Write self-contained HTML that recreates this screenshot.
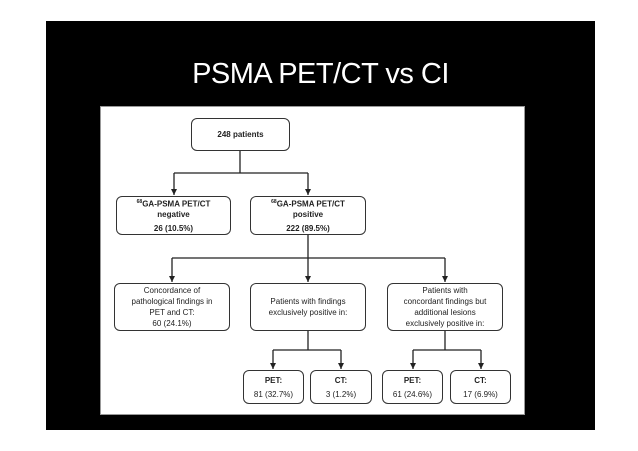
<!DOCTYPE html>
<html><head><style>
body{margin:0;width:638px;height:451px;background:#fff;overflow:hidden;position:relative;font-family:"Liberation Sans",Arial,sans-serif}
#slide{position:absolute;left:46px;top:21px;width:549px;height:409px;background:#000}
#title{position:absolute;left:46px;width:549px;top:58px;text-align:center;color:#fff;font-size:29px;letter-spacing:-0.5px}
#panel{position:absolute;left:100px;top:106px;width:423px;height:307px;background:#fff;border:1px solid #999}
.b{position:absolute;border:1.5px solid #333;border-radius:6px;box-sizing:border-box;display:flex;flex-direction:column;justify-content:center;align-items:center;text-align:center;font-size:8px;color:#222;line-height:11px}
.bd{font-weight:bold}
svg{position:absolute;left:0;top:0}
</style></head><body>
<div id="slide"></div>
<div id="title">PSMA PET/CT vs CI</div>
<div id="panel"></div>
<svg width="638" height="451">
<defs><marker id="a" markerWidth="6" markerHeight="6" refX="6" refY="3" orient="auto" markerUnits="userSpaceOnUse"><path d="M0,0 L6,3 L0,6 z" fill="#222"/></marker></defs>
<g stroke="#222" stroke-width="1.3" fill="none">
<path d="M240,151 V173 M174,173 H308"/>
<path d="M174,173 V195" marker-end="url(#a)"/><path d="M308,173 V195" marker-end="url(#a)"/>
<path d="M308,235 V258 M172,258 H445"/>
<path d="M172,258 V282" marker-end="url(#a)"/><path d="M308,258 V282" marker-end="url(#a)"/><path d="M445,258 V282" marker-end="url(#a)"/>
<path d="M308,331 V350 M273,350 H341"/>
<path d="M273,350 V369" marker-end="url(#a)"/><path d="M341,350 V369" marker-end="url(#a)"/>
<path d="M445,331 V350 M413,350 H481"/>
<path d="M413,350 V369" marker-end="url(#a)"/><path d="M481,350 V369" marker-end="url(#a)"/>
</g></svg>
<div class="b bd" style="left:191px;top:118px;width:99px;height:33px">248 patients</div>
<div class="b bd" style="left:116px;top:196px;width:115px;height:39px"><div><sup style="font-size:5px">68</sup>GA-PSMA PET/CT</div><div>negative</div><div style="margin-top:3px">26 (10.5%)</div></div>
<div class="b bd" style="left:250px;top:196px;width:116px;height:39px"><div><sup style="font-size:5px">68</sup>GA-PSMA PET/CT</div><div>positive</div><div style="margin-top:3px">222 (89.5%)</div></div>
<div class="b" style="left:114px;top:283px;width:116px;height:48px"><div>Concordance of</div><div>pathological findings in</div><div>PET and CT:</div><div>60 (24.1%)</div></div>
<div class="b" style="left:250px;top:283px;width:116px;height:48px"><div>Patients with findings</div><div>exclusively positive in:</div></div>
<div class="b" style="left:387px;top:283px;width:116px;height:48px"><div>Patients with</div><div>concordant findings but</div><div>additional lesions</div><div>exclusively positive in:</div></div>
<div class="b" style="left:243px;top:370px;width:61px;height:34px"><div class="bd">PET:</div><div style="margin-top:3px">81 (32.7%)</div></div>
<div class="b" style="left:310px;top:370px;width:62px;height:34px"><div class="bd">CT:</div><div style="margin-top:3px">3 (1.2%)</div></div>
<div class="b" style="left:382px;top:370px;width:61px;height:34px"><div class="bd">PET:</div><div style="margin-top:3px">61 (24.6%)</div></div>
<div class="b" style="left:450px;top:370px;width:61px;height:34px"><div class="bd">CT:</div><div style="margin-top:3px">17 (6.9%)</div></div>
</body></html>
